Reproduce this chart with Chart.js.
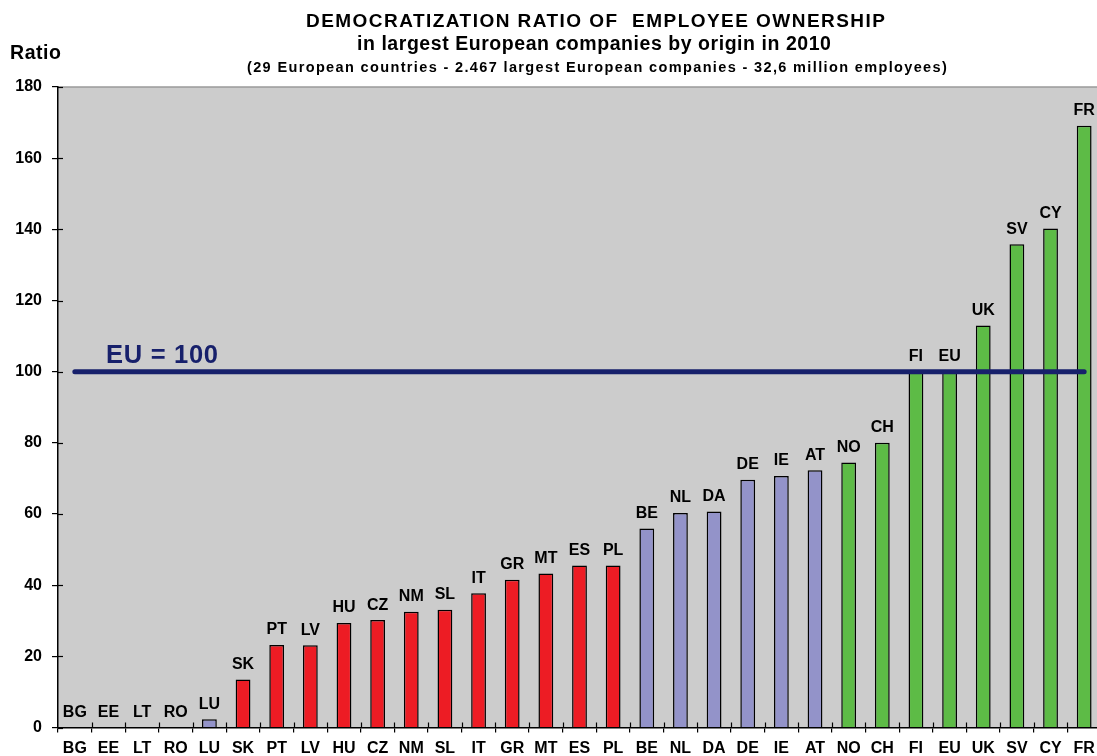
<!DOCTYPE html>
<html><head><meta charset="utf-8">
<script src="https://cdn.jsdelivr.net/npm/chart.js@4/dist/chart.umd.min.js"></script>
<style>
html,body{margin:0;padding:0;background:#fff;overflow:hidden;width:1097px;height:756px}
#wrap{position:absolute;left:0;top:0;width:1101px;height:756px}
</style></head><body>
<div id="wrap"><canvas id="c" width="1101" height="756"></canvas></div>
<script>
// ---- data ----
const categories = ['BG','EE','LT','RO','LU','SK','PT','LV','HU','CZ','NM','SL','IT','GR','MT','ES','PL','BE','NL','DA','DE','IE','AT','NO','CH','FI','EU','UK','SV','CY','FR'];
const ratios = [0,0,0,0,2.3,13.5,23.2,23.1,29.4,30.2,32.5,33.1,37.7,41.5,43.3,45.5,45.5,55.9,60.3,60.7,69.6,70.7,72.3,74.5,80.0,100,100,113.0,135.8,140.2,169.1];
const groups = ['none','none','none','none','mid','low','low','low','low','low','low','low','low','low','low','low','low','mid','mid','mid','mid','mid','mid','high','high','high','high','high','high','high','high'];
const yTicks = [0,20,40,60,80,100,120,140,160,180];
const referenceValue = 100;
const referenceLabel = 'EU = 100';
const titleLines = ['DEMOCRATIZATION RATIO OF  EMPLOYEE OWNERSHIP','in largest European companies by origin in 2010','(29 European countries - 2.467 largest European companies - 32,6 million employees)'];
const yAxisTitle = 'Ratio';

// ---- styles ----
const FONT = "Arial, 'Liberation Sans', sans-serif";
const groupColors = {low:'#ED1C24', mid:'#9393C9', high:'#5DBB46', none:'rgba(0,0,0,0)'};
const navy = '#17206B';

function fitText(ctx, text, size, left, baseline, width, color){
  ctx.save();
  ctx.font = 'bold ' + size + 'px ' + FONT;
  ctx.letterSpacing = '0px';
  const w = ctx.measureText(text).width;
  const ls = (width - w) / Math.max(1, text.length - 1);
  ctx.letterSpacing = ls.toFixed(2) + 'px';
  ctx.fillStyle = color || '#000';
  ctx.textAlign = 'left';
  ctx.textBaseline = 'alphabetic';
  ctx.fillText(text, left, baseline);
  ctx.restore();
}

const decor = {
  id:'decor',
  beforeDraw(chart){
    const {ctx, chartArea:a} = chart;
    ctx.save();
    ctx.fillStyle = '#CCCCCC';
    ctx.fillRect(a.left, a.top, a.right - a.left, a.bottom - a.top);
    ctx.strokeStyle = '#9A9A9A';
    ctx.lineWidth = 1.5;
    ctx.beginPath(); ctx.moveTo(a.left, a.top); ctx.lineTo(a.right, a.top); ctx.stroke();
    ctx.restore();
  },
  afterDraw(chart){
    const {ctx, chartArea:a} = chart;
    const xs = chart.scales.x, ys = chart.scales.y;
    const meta = chart.getDatasetMeta(0);
    ctx.save();
    // inner tick marks
    ctx.strokeStyle = '#000'; ctx.lineWidth = 1.2;
    yTicks.forEach(v => {
      const y = Math.round(ys.getPixelForValue(v)) + 0.5;
      ctx.beginPath(); ctx.moveTo(a.left, y); ctx.lineTo(a.left + 5, y); ctx.stroke();
    });
    const step = (a.right - a.left) / categories.length;
    for (let i = 1; i < categories.length; i++) {
      const x = Math.round(a.left + i * step) + 0.5;
      ctx.beginPath(); ctx.moveTo(x, a.bottom); ctx.lineTo(x, a.bottom - 5); ctx.stroke();
    }
    // reference line
    const yr = ys.getPixelForValue(referenceValue);
    ctx.strokeStyle = navy; ctx.lineWidth = 5; ctx.lineCap = 'round';
    ctx.beginPath();
    ctx.moveTo(xs.getPixelForValue(0), yr);
    ctx.lineTo(xs.getPixelForValue(categories.length - 1), yr);
    ctx.stroke();
    fitText(ctx, referenceLabel, 25.5, 106, yr - 9, 112, navy);
    // bar labels
    ctx.fillStyle = '#000';
    ctx.font = 'bold 16px ' + FONT;
    ctx.textAlign = 'center'; ctx.textBaseline = 'alphabetic';
    meta.data.forEach((bar, i) => {
      const y = ys.getPixelForValue(ratios[i]) - 10.5;
      ctx.fillText(categories[i], bar.x, y);
    });
    // titles
    fitText(ctx, titleLines[0], 19, 306, 26.7, 579);
    fitText(ctx, titleLines[1], 19.5, 357, 50, 474);
    fitText(ctx, titleLines[2], 14.5, 247, 71.7, 700);
    fitText(ctx, yAxisTitle, 19.5, 10, 59, 51);
    ctx.restore();
  }
};

new Chart(document.getElementById('c'), {
  type:'bar',
  data:{
    labels: categories,
    datasets:[{
      data: ratios,
      backgroundColor: groups.map(g => groupColors[g]),
      borderColor: groups.map(g => g === 'none' ? 'rgba(0,0,0,0)' : '#000'),
      borderWidth: groups.map(g => g === 'none' ? 0 : 1.5),
      borderSkipped: 'bottom',
      categoryPercentage: 1,
      barPercentage: 0.44
    }]
  },
  options:{
    responsive:false,
    animation:false,
    devicePixelRatio:1,
    layout:{padding:{top:87, left:0, right:0, bottom:0}},
    plugins:{legend:{display:false}, tooltip:{enabled:false}, title:{display:false}},
    scales:{
      x:{
        grid:{display:true, drawOnChartArea:false, drawTicks:true, tickLength:5, offset:true, color:'#000', lineWidth:1.2},
        border:{display:true, color:'#000', width:1.5},
        ticks:{font:{family:FONT, size:16, weight:'bold'}, color:'#000', padding:6, maxRotation:0, autoSkip:false},
        afterFit(s){ s.height = 28.5; }
      },
      y:{
        min:0, max:180,
        grid:{display:true, drawOnChartArea:false, drawTicks:true, tickLength:6, color:'#000', lineWidth:1.2},
        border:{display:true, color:'#000', width:1.5},
        ticks:{stepSize:20, font:{family:FONT, size:16, weight:'bold'}, color:'#000', padding:10},
        afterFit(s){ s.width = 58; }
      }
    }
  },
  plugins:[decor]
});
</script>
</body></html>
